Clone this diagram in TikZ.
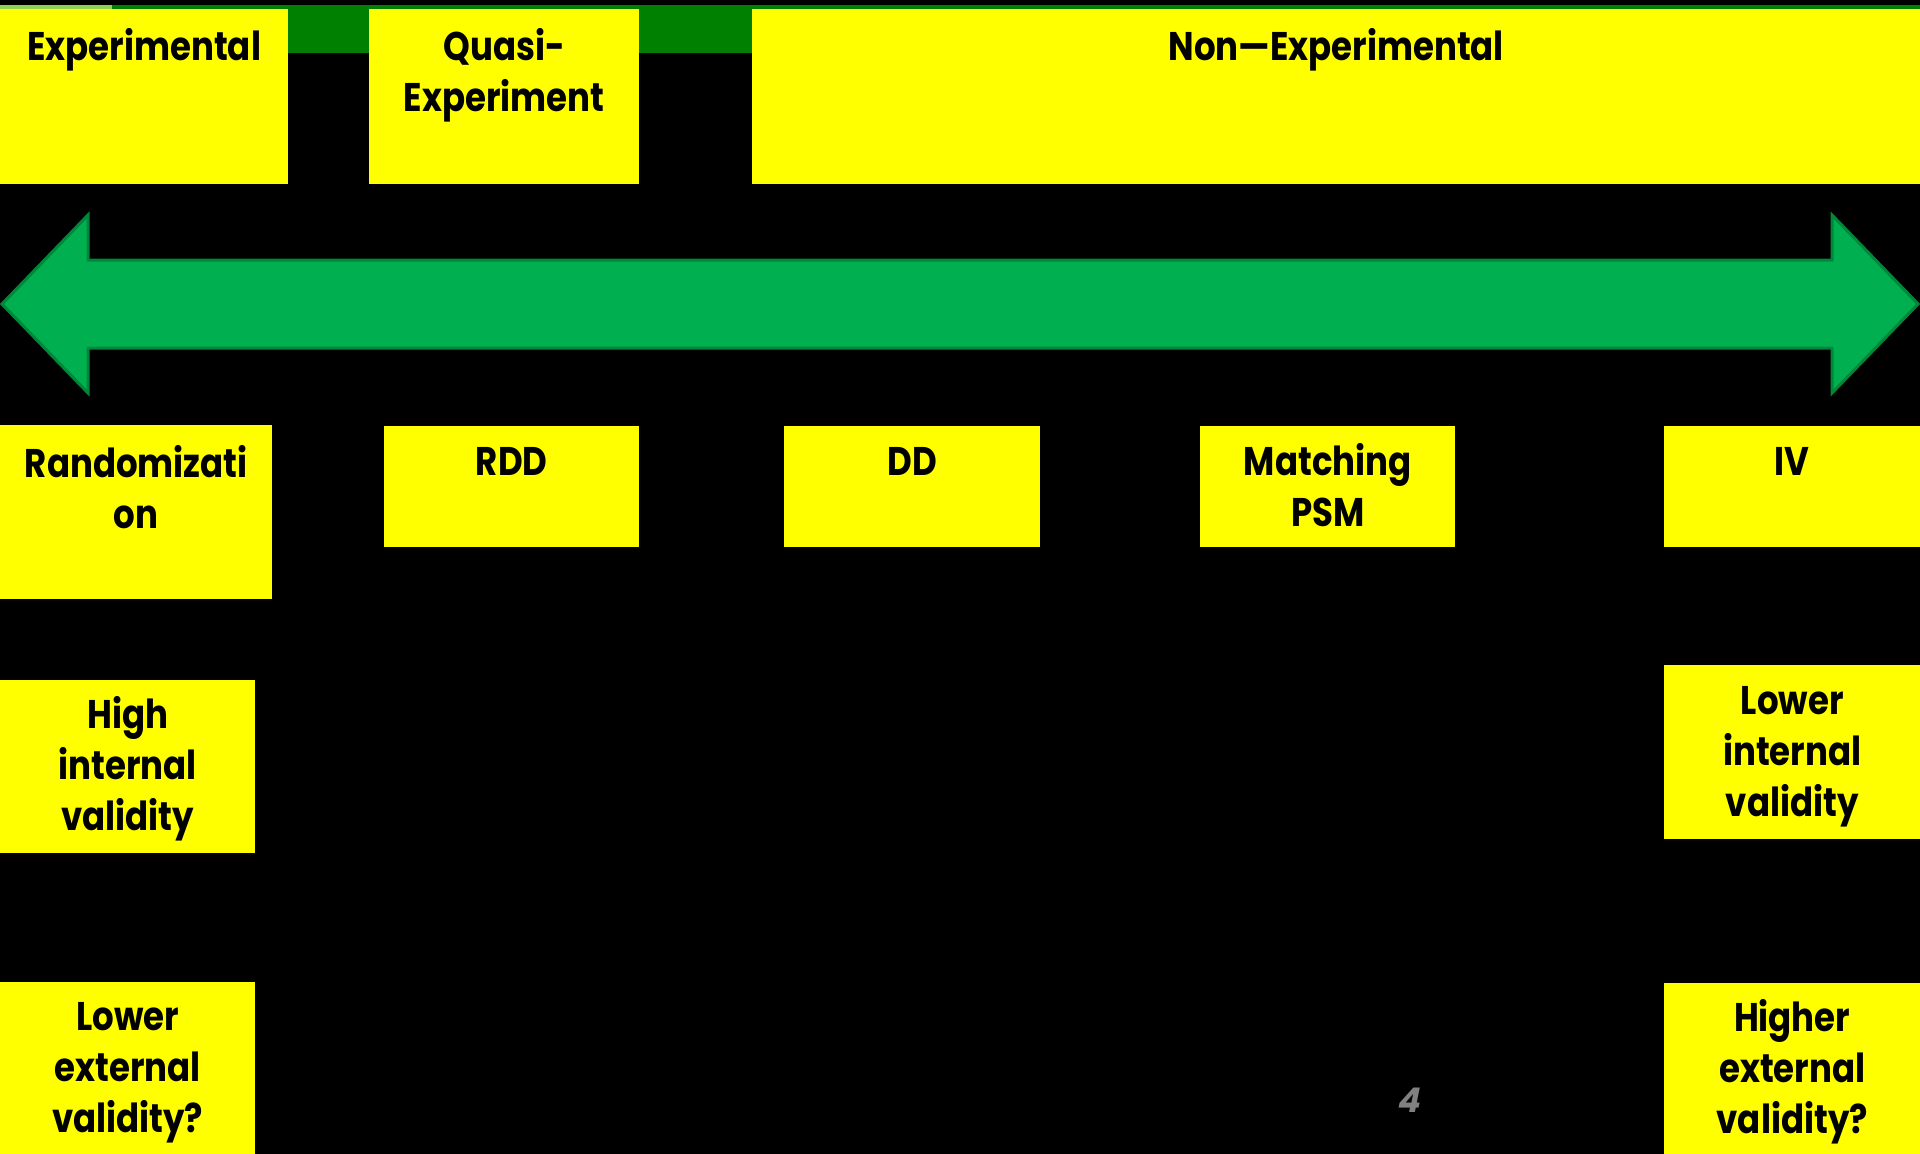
\documentclass[tikz,border=0pt]{standalone}
\usepackage{fontspec}
\setmainfont{Poppins}[FakeStretch=0.85]
\newfontfamily\pgfont{Poppins}[FakeSlant=0.2]
\usetikzlibrary{calc}
\definecolor{ylw}{HTML}{FFFF00}
\definecolor{dkgreen}{HTML}{008000}
\definecolor{ltgreen}{HTML}{92D050}
\definecolor{arrfill}{HTML}{00B050}
\definecolor{arrline}{HTML}{00873A}
\definecolor{pgnum}{HTML}{808080}
\begin{document}
\begin{tikzpicture}[x=1pt,y=-1pt,
  box/.style={fill=ylw, draw=none, inner sep=0pt, anchor=north west},
  lbl/.style={anchor=north, align=center, inner sep=0pt, text=black,
    font=\fontsize{40}{51}\selectfont\bfseries}]
\fill[black] (0,0) rectangle (1920,1154);
\useasboundingbox (0,0) rectangle (1920,1154);
% top band
\fill[dkgreen] (81,5) rectangle (1920,53);
\fill[ltgreen] (0,5) rectangle (112,9);
% top boxes
\node[box, minimum width=288pt, minimum height=175pt] (exp) at (0,9) {};
\node[box, minimum width=270pt, minimum height=175pt] (quasi) at (369,9) {};
\node[box, minimum width=1168pt, minimum height=175pt] (nonexp) at (752,9) {};
\node[lbl] (expT) at ($(exp.north)+(0,16)$) {\strut Experimental};
\node[lbl] (quasiT) at ($(quasi.north)+(0,16)$) {\strut Quasi-\\Experiment};
\node[lbl] (nonexpT) at ($(nonexp.north)+(0,16)$) {\strut Non—Experimental};
% double arrow
\draw[fill=arrfill, draw=arrline, line width=3pt, line join=miter]
  (2,304) -- (88,215) -- (88,260) -- (1832,260) -- (1832,215) -- (1918,304)
  -- (1832,393) -- (1832,348) -- (88,348) -- (88,393) -- cycle;
% method boxes
\node[box, minimum width=272pt, minimum height=174pt] (rand) at (0,425) {};
\node[box, minimum width=255pt, minimum height=121pt] (rdd) at (384,426) {};
\node[box, minimum width=256pt, minimum height=121pt] (dd) at (784,426) {};
\node[box, minimum width=255pt, minimum height=121pt] (match) at (1200,426) {};
\node[box, minimum width=256pt, minimum height=121pt] (iv) at (1664,426) {};
\node[lbl] (randT) at ($(rand.north)+(0,17)$) {\strut Randomizati\\on};
\node[lbl] (rddT) at ($(rdd.north)+(0,14)$) {\strut RDD};
\node[lbl] (ddT) at ($(dd.north)+(0,14)$) {\strut DD};
\node[lbl] (matchT) at ($(match.north)+(0,14)$) {\strut Matching\\PSM};
\node[lbl] (ivT) at ($(iv.north)+(0,14)$) {\strut IV};
% validity boxes
\node[box, minimum width=255pt, minimum height=173pt] (hiint) at (0,680) {};
\node[box, minimum width=256pt, minimum height=174pt] (loint) at (1664,665) {};
\node[box, minimum width=255pt, minimum height=172pt] (loext) at (0,982) {};
\node[box, minimum width=256pt, minimum height=171pt] (hiext) at (1664,983) {};
\node[lbl] (hiintT) at ($(hiint.north)+(0,13)$) {\strut High\\internal\\validity};
\node[lbl] (lointT) at ($(loint.north)+(0,14)$) {\strut Lower\\internal\\validity};
\node[lbl] (loextT) at ($(loext.north)+(0,13)$) {\strut Lower\\external\\validity?};
\node[lbl] (hiextT) at ($(hiext.north)+(0,13)$) {\strut Higher\\external\\validity?};
% page number
\node[text=pgnum, font=\pgfont\fontsize{34}{40}\selectfont\bfseries, inner sep=0pt] (pg) at (1408,1100) {4};
\end{tikzpicture}
\end{document}
